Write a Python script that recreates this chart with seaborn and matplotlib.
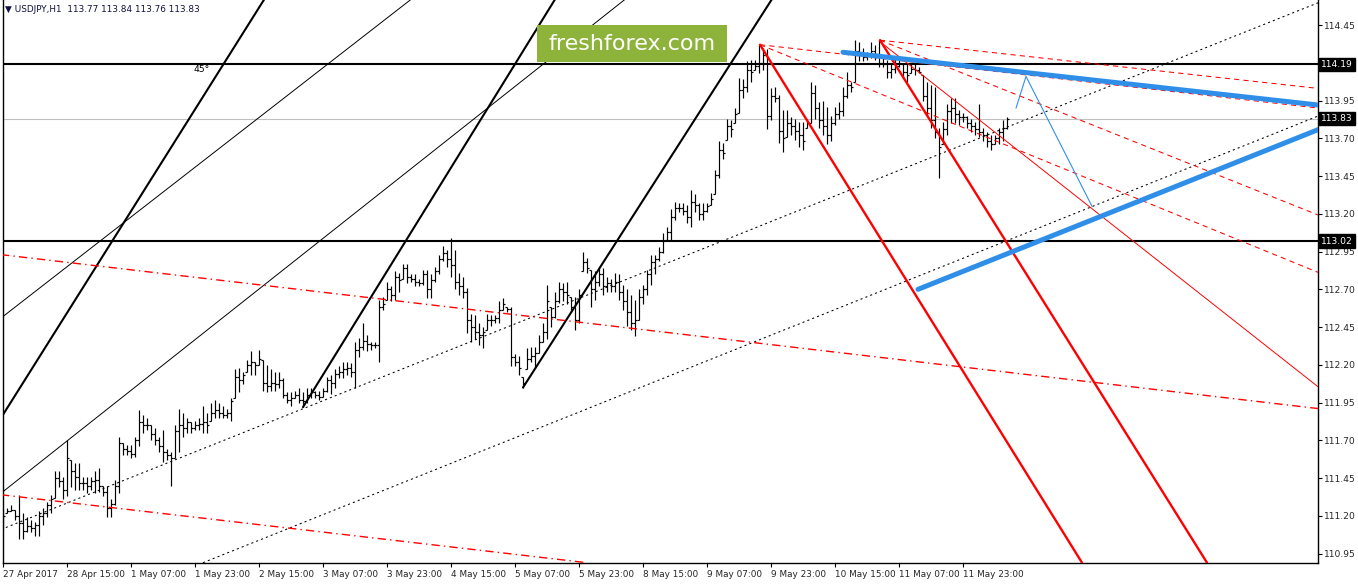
import numpy as np
import pandas as pd
import seaborn as sns
import matplotlib.pyplot as plt
from matplotlib.patches import Rectangle
from matplotlib.transforms import blended_transform_factory

sns.set_style("white")
plt.rcParams['font.family'] = ['DejaVu Sans']

title = "\u25bc USDJPY,H1  113.77 113.84 113.76 113.83"

# hourly bars 27 Apr 23:00 .. 12 May 10:00
high = [111.24, 111.25, 111.27, 111.24, 111.34, 111.22, 111.19, 111.17, 111.16, 111.23, 111.25, 111.29, 111.34,
        111.50, 111.50, 111.46, 111.70, 111.57, 111.55, 111.55, 111.46, 111.46, 111.46, 111.50, 111.52, 111.40,
        111.40, 111.31, 111.44, 111.72, 111.68, 111.67, 111.67, 111.72, 111.90, 111.87, 111.85, 111.80, 111.78,
        111.72, 111.77, 111.64, 111.62, 111.80, 111.91, 111.88, 111.85, 111.82, 111.83, 111.85, 111.93, 111.88,
        111.95, 111.97, 111.95, 111.93, 111.91, 111.98, 112.17, 112.18, 112.15, 112.23, 112.29, 112.22, 112.30,
        112.23, 112.20, 112.17, 112.15, 112.15, 112.11, 112.02, 112.02, 112.03, 112.05, 112.02, 112.05, 112.05,
        112.03, 112.03, 112.05, 112.12, 112.13, 112.17, 112.19, 112.22, 112.22, 112.21, 112.35, 112.38, 112.48,
        112.40, 112.35, 112.35, 112.63, 112.65, 112.75, 112.72, 112.82, 112.81, 112.87, 112.87, 112.80,
        112.80, 112.77, 112.83, 112.83, 112.80, 112.85, 112.93, 112.99, 112.96, 113.04, 112.96, 112.81, 112.78,
        112.71, 112.54, 112.53, 112.48, 112.45, 112.54, 112.53, 112.53, 112.62, 112.64, 112.58, 112.58, 112.27,
        112.26, 112.12, 112.31, 112.32, 112.32, 112.40, 112.48, 112.73, 112.58, 112.68, 112.75, 112.74, 112.75,
        112.65, 112.65, 112.70, 112.95, 112.91, 112.83, 112.82, 112.85, 112.84, 112.78, 112.77, 112.81,
        112.80, 112.73, 112.70, 112.66, 112.63, 112.70, 112.73, 112.83, 112.93, 112.93,
        112.98, 113.07, 113.11, 113.23, 113.28, 113.27, 113.27, 113.26, 113.36, 113.33, 113.27, 113.27, 113.27,
        113.34, 113.49, 113.68, 113.67, 113.83, 113.82, 113.90, 114.10, 114.09, 114.21, 114.22, 114.22, 114.32,
        114.30, 114.29, 114.03, 114.04, 113.99, 113.89, 113.89, 113.84, 113.83, 113.81, 113.81, 113.83, 114.07,
        114.05, 113.94, 113.95, 113.91, 113.85, 113.91, 113.94, 114.04, 114.14, 114.07, 114.35, 114.34, 114.30,
        114.27, 114.34, 114.32, 114.35, 114.25, 114.22, 114.20, 114.24, 114.24, 114.19, 114.19, 114.19, 114.19,
        114.17, 114.12, 114.07, 114.05, 114.04, 113.77, 113.81, 113.93, 113.97, 113.97, 113.89, 113.87, 113.85,
        113.83, 113.81, 113.93, 113.77, 113.74, 113.72, 113.72, 113.77, 113.82, 113.84]
low = [111.11, 111.22, 111.23, 111.17, 111.05, 111.05, 111.09, 111.09, 111.07, 111.07, 111.14, 111.19, 111.22,
       111.32, 111.39, 111.31, 111.33, 111.39, 111.37, 111.37, 111.37, 111.35, 111.37, 111.35, 111.36, 111.33,
       111.19, 111.19, 111.27, 111.35, 111.60, 111.60, 111.58, 111.59, 111.66, 111.75, 111.77, 111.70, 111.67,
       111.62, 111.56, 111.57, 111.40, 111.58, 111.62, 111.72, 111.75, 111.75, 111.77, 111.77, 111.75, 111.75,
       111.83, 111.85, 111.85, 111.85, 111.85, 111.83, 111.98, 112.02, 112.07, 112.15, 112.13, 112.13, 112.20,
       112.03, 112.02, 112.03, 112.03, 112.05, 111.98, 111.95, 111.93, 111.98, 111.95, 111.92, 111.95, 111.98,
       111.98, 111.97, 111.99, 112.02, 112.01, 112.05, 112.11, 112.11, 112.13, 112.12, 112.05, 112.25, 112.30,
       112.29, 112.30, 112.31, 112.22, 112.56, 112.63, 112.62, 112.63, 112.68, 112.77, 112.74, 112.75,
       112.72, 112.72, 112.73, 112.64, 112.64, 112.75, 112.80, 112.89, 112.85, 112.78, 112.70, 112.66, 112.64,
       112.41, 112.35, 112.37, 112.33, 112.31, 112.43, 112.46, 112.48, 112.48, 112.56, 112.55, 112.19, 112.19,
       112.13, 112.05, 112.17, 112.22, 112.18, 112.28, 112.35, 112.37, 112.45, 112.51, 112.61, 112.62, 112.60,
       112.55, 112.43, 112.48, 112.82, 112.81, 112.58, 112.63, 112.72, 112.66, 112.68, 112.68, 112.68,
       112.63, 112.56, 112.46, 112.43, 112.39, 112.50, 112.60, 112.66, 112.73, 112.80,
       112.89, 112.94, 113.03, 113.03, 113.16, 113.21, 113.19, 113.14, 113.11, 113.21, 113.16, 113.16, 113.21,
       113.26, 113.33, 113.44, 113.56, 113.69, 113.71, 113.80, 113.87, 113.97, 114.01, 114.07, 114.15, 114.13,
       114.15, 113.76, 113.82, 113.94, 113.67, 113.61, 113.71, 113.72, 113.69, 113.64, 113.62, 113.77, 113.80,
       113.83, 113.77, 113.72, 113.66, 113.68, 113.79, 113.83, 113.85, 113.97, 114.01, 114.07, 114.21, 114.21,
       114.22, 114.23, 114.22, 114.17, 114.17, 114.10, 114.10, 114.13, 114.17, 114.10, 114.07, 114.13, 114.12,
       114.13, 113.95, 113.84, 113.77, 113.70, 113.44, 113.66, 113.72, 113.80, 113.80, 113.79, 113.81, 113.77,
       113.74, 113.72, 113.71, 113.68, 113.64, 113.62, 113.66, 113.66, 113.68, 113.76]
close = [111.20, 111.23, 111.24, 111.20, 111.15, 111.10, 111.13, 111.12, 111.14, 111.20, 111.22, 111.27, 111.31,
         111.45, 111.43, 111.37, 111.58, 111.50, 111.46, 111.42, 111.42, 111.40, 111.43, 111.44, 111.40, 111.36,
         111.25, 111.28, 111.40, 111.68, 111.64, 111.63, 111.61, 111.70, 111.82, 111.80, 111.80, 111.74, 111.70,
         111.66, 111.62, 111.60, 111.58, 111.76, 111.80, 111.78, 111.82, 111.78, 111.80, 111.81, 111.82, 111.80,
         111.88, 111.90, 111.88, 111.87, 111.88, 111.96, 112.12, 112.10, 112.13, 112.20, 112.22, 112.20, 112.24,
         112.08, 112.06, 112.08, 112.07, 112.10, 112.00, 111.97, 111.98, 112.00, 111.97, 111.96, 112.00, 112.02,
         112.00, 111.99, 112.03, 112.10, 112.08, 112.14, 112.15, 112.17, 112.18, 112.15, 112.30, 112.32, 112.36,
         112.34, 112.33, 112.33, 112.58, 112.60, 112.70, 112.66, 112.78, 112.76, 112.84, 112.78, 112.77,
         112.75, 112.74, 112.80, 112.70, 112.76, 112.82, 112.90, 112.94, 112.90, 112.86, 112.75, 112.72, 112.68,
         112.50, 112.45, 112.42, 112.40, 112.42, 112.50, 112.50, 112.51, 112.56, 112.60, 112.57, 112.25, 112.22,
         112.18, 112.08, 112.24, 112.26, 112.28, 112.35, 112.42, 112.62, 112.52, 112.62, 112.70, 112.68, 112.66,
         112.58, 112.50, 112.66, 112.88, 112.84, 112.70, 112.75, 112.80, 112.72, 112.74, 112.72, 112.75,
         112.68, 112.62, 112.55, 112.48, 112.50, 112.65, 112.70, 112.80, 112.88, 112.90,
         112.95, 113.02, 113.08, 113.18, 113.24, 113.24, 113.22, 113.18, 113.28, 113.26, 113.20, 113.22, 113.25,
         113.30, 113.46, 113.62, 113.60, 113.78, 113.76, 113.86, 114.02, 114.04, 114.15, 114.14, 114.18, 114.20,
         114.25, 113.85, 113.98, 113.97, 113.75, 113.70, 113.80, 113.78, 113.75, 113.72, 113.68, 113.80, 114.00,
         113.90, 113.82, 113.78, 113.72, 113.80, 113.86, 113.88, 113.98, 114.05, 114.04, 114.28, 114.25, 114.24,
         114.25, 114.28, 114.26, 114.20, 114.19, 114.14, 114.16, 114.18, 114.20, 114.14, 114.12, 114.16, 114.15,
         114.14, 113.98, 113.90, 113.82, 113.74, 113.64, 113.76, 113.88, 113.90, 113.86, 113.84, 113.84, 113.80,
         113.78, 113.76, 113.74, 113.72, 113.68, 113.66, 113.70, 113.74, 113.77, 113.83]
first_open = 111.18

time_ticks = [0, 16, 32, 48, 64, 80, 96, 112, 128, 144, 160, 176, 192, 208, 224, 240]
time_labels = ["27 Apr 2017", "28 Apr 15:00", "1 May 07:00", "1 May 23:00", "2 May 15:00",
               "3 May 07:00", "3 May 23:00", "4 May 15:00", "5 May 07:00", "5 May 23:00",
               "8 May 15:00", "9 May 07:00", "9 May 23:00", "10 May 15:00", "11 May 07:00",
               "11 May 23:00"]
# 114.20 is covered by the 114.19 marker on the original scale
price_ticks = [110.95, 111.20, 111.45, 111.70, 111.95, 112.20, 112.45, 112.70,
               112.95, 113.20, 113.45, 113.70, 113.95, 114.45]
levels = [114.19, 113.02]
bid = 113.83

# drawn objects, (bar index, price) anchors
black_thick = [[(0, 111.87), (65.3, 114.62)],
               [(75, 111.92), (138, 114.62)],
               [(130, 112.05), (192.2, 114.62)]]
black_thin = [[(-0.5, 111.35), (155.5, 114.62)],
              [(-0.5, 112.51), (102, 114.62)]]
black_dotted = [[(50, 110.89), (329, 113.85)],
                [(-0.5, 111.11), (329, 114.60)]]
red_thick = [[(189.25, 114.32), (269.75, 110.89)],
             [(219.25, 114.35), (301, 110.89)]]
red_thin = [[(219.25, 114.34), (329, 112.05)]]
red_dashdot = [[(-0.5, 112.93), (329, 111.91)],
               [(-0.5, 111.34), (146, 110.89)]]
red_dashed = [[(189.25, 114.32), (329, 113.90)],
              [(219.25, 114.35), (329, 114.03)],
              [(189.25, 114.32), (329, 112.81)],
              [(219.25, 114.35), (329, 113.19)]]
blue_thick = [[(210, 114.27), (329, 113.92)],
              [(228.75, 112.70), (329, 113.76)]]
blue_thin = [[(253.25, 113.90), (255.75, 114.11), (272.25, 113.25)]]

W, H = 1358, 584
fig = plt.figure(figsize=(W / 100, H / 100), dpi=100)
ax = fig.add_axes([2.5 / W, (H - 563) / H, (1318 - 2.5) / W, 563 / H])

df = pd.DataFrame({"high": high, "low": low, "close": close})
df["bar"] = np.arange(len(df))
df["open"] = df["close"].shift(1).fillna(first_open).clip(df["low"], df["high"])

ax.vlines(df["bar"], df["low"], df["high"], color="black", lw=0.85, zorder=2)
ax.hlines(df["open"], df["bar"] - 0.45, df["bar"], color="black", lw=0.85, zorder=2)
ax.hlines(df["close"], df["bar"], df["bar"] + 0.45, color="black", lw=0.85, zorder=2)

ax.axhline(bid, color="#c0c0c0", lw=0.8, zorder=1)
for lv in levels:
    ax.axhline(lv, color="black", lw=1.5, zorder=3)


def draw(lines, **kw):
    for ln in lines:
        xs, ys = zip(*ln)
        sns.lineplot(x=list(xs), y=list(ys), ax=ax, sort=False, estimator=None, zorder=4, **kw)


draw(black_thick, color="black", lw=1.5)
draw(black_thin, color="black", lw=0.7)
draw(black_dotted, color="black", lw=0.75, linestyle=(0, (2, 3)))
draw(red_thick, color="#ff0000", lw=1.7)
draw(red_thin, color="#ff0000", lw=0.7)
draw(red_dashdot, color="#ff0000", lw=1.0, linestyle=(0, (6, 3, 1, 3)))
draw(red_dashed, color="#ff0000", lw=0.75, linestyle=(0, (5, 4)))
draw(blue_thick, color="#2f8fe8", lw=3.6)
draw(blue_thin, color="#2f8fe8", lw=0.8)

ax.set_xlim(-0.125, 328.75)
ax.set_ylim(110.888, 114.616)
ax.spines["top"].set_visible(False)
for s in ["left", "right", "bottom"]:
    ax.spines[s].set_color("black")
    ax.spines[s].set_linewidth(1)

ax.set_xticks(time_ticks, time_labels)
for lab in ax.get_xticklabels():
    lab.set_ha("left")
ax.set_yticks(price_ticks, [f"{p:.2f}" for p in price_ticks])
ax.tick_params(axis="y", left=False, right=True, labelleft=False, labelright=True,
               direction="out", length=3, width=0.8, color="black", labelsize=6.6, pad=1)
ax.tick_params(axis="x", bottom=True, direction="out", length=3, width=0.8,
               color="black", labelsize=6.4, pad=2)
ax.set_xlabel("")
ax.set_ylabel("")

tr = blended_transform_factory(ax.transAxes, ax.transData)
for lv in levels + [bid]:
    ax.text(1.0 + 3 / 1315.5, lv, f"{lv:.2f}", transform=tr, ha="left", va="center",
            color="white", fontsize=6.6, clip_on=False, zorder=6,
            bbox=dict(boxstyle="square,pad=0.25", facecolor="black", edgecolor="black"))

fig.text(5 / W, 1 - 10 / H, title, fontsize=6.4, va="center", ha="left", color="#101040")
fig.text(193 / W, 1 - 70 / H, "45\u00b0", fontsize=6.6, va="center", ha="left", color="black")

fig.add_artist(Rectangle((537 / W, (H - 62) / H), 190 / W, 37 / H, transform=fig.transFigure,
                         facecolor="#8db33a", edgecolor="none", zorder=10))
fig.text(632 / W, 1 - 43.5 / H, "freshforex.com", color="white", fontsize=16,
         ha="center", va="center", zorder=11)

fig.savefig("out.png", dpi=100, facecolor="white")
